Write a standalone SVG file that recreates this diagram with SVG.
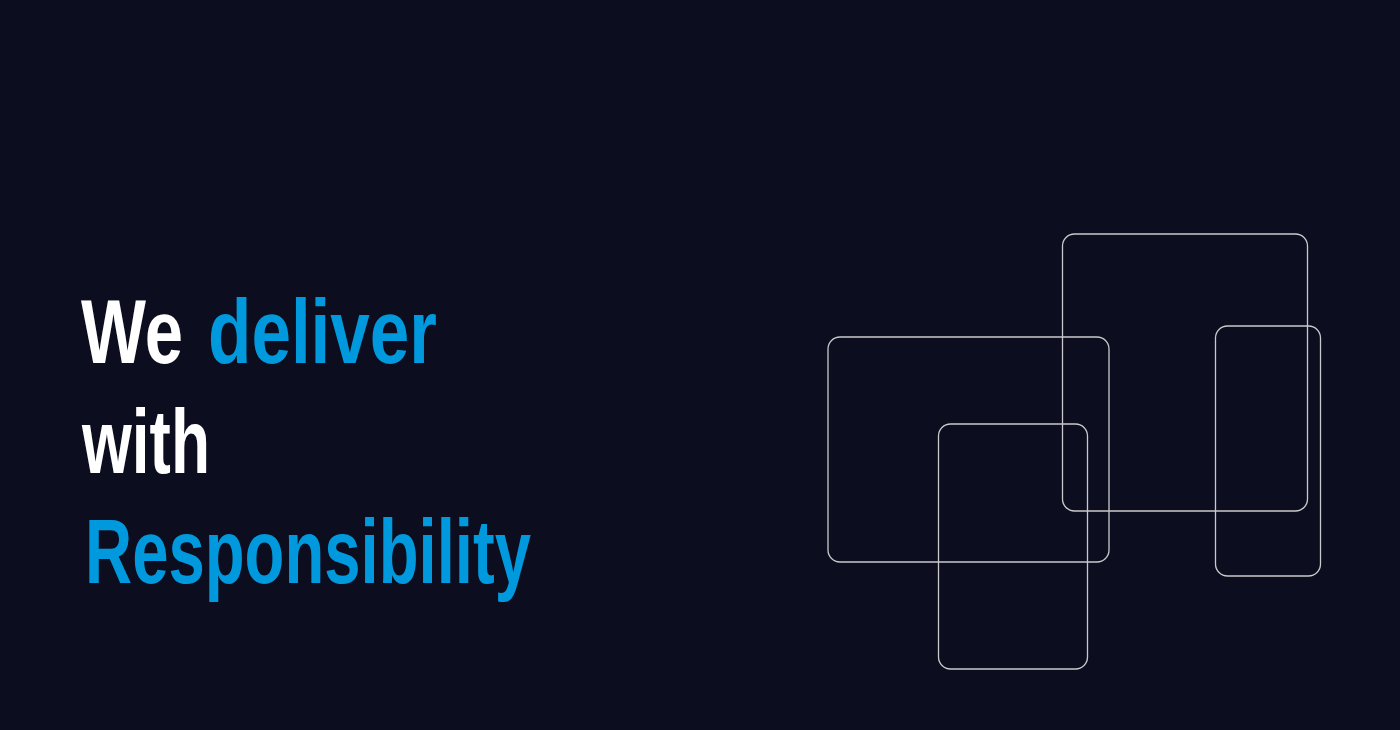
<svg xmlns="http://www.w3.org/2000/svg" width="1400" height="730" viewBox="0 0 1400 730">
  <style>
    .t { font-family: "Liberation Sans", Arial, sans-serif; font-weight: 700; font-size: 90px; }
    .w { fill: #ffffff; }
    .b { fill: #0099dd; }
    .box { fill: none; stroke: #c9c9cc; stroke-width: 1.3; }
  </style>
  <rect x="0" y="0" width="1400" height="730" fill="#0c0e1f"/>
  <g id="headline">
    <text class="t w" x="81" y="363" textLength="102" lengthAdjust="spacingAndGlyphs">We</text>
    <text class="t b" x="208" y="363" textLength="229" lengthAdjust="spacingAndGlyphs">deliver</text>
    <text class="t w" x="82" y="473" textLength="128" lengthAdjust="spacingAndGlyphs">with</text>
    <text class="t b" x="85" y="583" textLength="446" lengthAdjust="spacingAndGlyphs">Responsibility</text>
  </g>
  <g id="frames">
    <rect id="frame-left" class="box" x="828" y="337" width="281" height="225" rx="12"/>
    <rect id="frame-top" class="box" x="1062.5" y="234" width="245" height="277" rx="12"/>
    <rect id="frame-right" class="box" x="1215.5" y="326" width="105" height="250" rx="12"/>
    <rect id="frame-bottom" class="box" x="938.5" y="424" width="149" height="245" rx="12"/>
  </g>
</svg>
